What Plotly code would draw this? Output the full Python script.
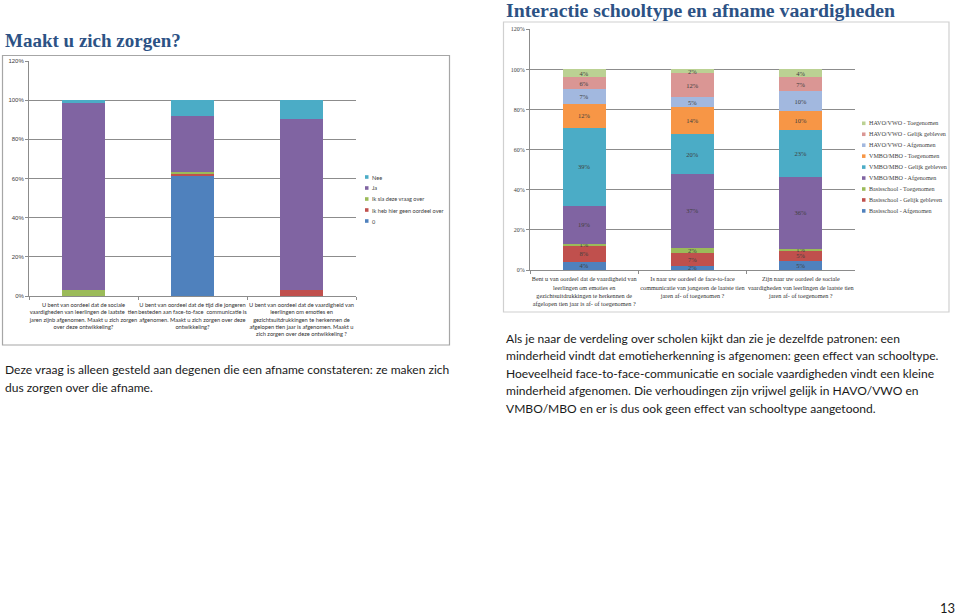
import plotly.graph_objects as go

W, H = 960, 615

# ---------------- Left chart data ----------------
left_categories = [
    "U bent van oordeel dat de sociale<br>vaardigheden van leerlingen de laatste  tien<br>jaren zijnb afgenomen. Maakt u zich zorgen<br>over deze ontwikkeling?",
    "U bent van oordeel dat de tijd die jongeren<br>besteden aan face-to-face  communicatie is<br>afgenomen. Maakt u zich zorgen over deze<br>ontwikkeling?",
    "U bent van oordeel dat de vaardigheid van<br>leerlingen om emoties en<br>gezichtsuitdrukkingen te herkennen de<br>afgelopen tien jaar is afgenomen. Maakt u<br>zich zorgen over deze ontwikkeling ?",
]
left_names = ["0", "Ik heb hier geen oordeel over", "Ik sla deze vraag over", "Ja", "Nee"]
left_zero = [0, 61.5, 0]
left_geen_oordeel = [0, 0.8, 3.2]
left_sla_over = [2.9, 1.2, 0]
left_ja = [95.7, 28.5, 87.2]
left_nee = [1.4, 8.0, 9.6]
left_colors = ["#4F81BD", "#C0504D", "#9BBB59", "#8064A2", "#4BACC6"]

# ---------------- Right chart data ----------------
right_categories = [
    "Bent u van oordeel dat de vaardigheid van<br>leerlingen om emoties en<br>gezichtsuitdrukkingen te herkennen de<br>afgelopen tien jaar is af- of toegenomen ?",
    "Is naar uw oordeel de face-to-face<br>communicatie van jongeren de laatste tien<br>jaren af- of toegenomen ?",
    "Zijn naar uw oordeel de sociale<br>vaardigheden van leerlingen de laatste tien<br>jaren af- of toegenomen ?",
]
right_names = [
    "Basisschool - Afgenomen", "Basisschool - Gelijk gebleven", "Basisschool - Toegenomen",
    "VMBO/MBO - Afgenomen", "VMBO/MBO - Gelijk gebleven", "VMBO/MBO - Toegenomen",
    "HAVO/VWO - Afgenomen", "HAVO/VWO - Gelijk gebleven", "HAVO/VWO - Toegenomen",
]
basis_af = [4, 2, 4.6]
basis_gelijk = [8, 6.6, 5]
basis_toe = [1, 2.4, 1]
vmbo_af = [19, 37, 36]
vmbo_gelijk = [39, 19.6, 23]
vmbo_toe = [12, 13.6, 9.6]
havo_af = [7, 5, 10]
havo_gelijk = [6, 11.8, 7]
havo_toe = [4, 2, 3.8]
right_colors = ["#4F81BD", "#C0504D", "#9BBB59", "#8064A2", "#4BACC6", "#F79646",
                "#A2B8DF", "#DA9694", "#BBD193"]

y_ticks = [0, 20, 40, 60, 80, 100, 120]
y_ticktext = [f"{v}%" for v in y_ticks]


def px(x):
    return x / W


def py(y):
    return 1 - y / H


fig = go.Figure()

left_series = [left_zero, left_geen_oordeel, left_sla_over, left_ja, left_nee]
for name, vals, col in zip(left_names, left_series, left_colors):
    fig.add_trace(go.Bar(x=left_categories, y=vals, name=name, marker_color=col,
                         marker_line_width=0, xaxis="x", yaxis="y", showlegend=False,
                         hoverinfo="skip"))

right_series = [basis_af, basis_gelijk, basis_toe, vmbo_af, vmbo_gelijk, vmbo_toe,
                havo_af, havo_gelijk, havo_toe]
for name, vals, col in zip(right_names, right_series, right_colors):
    fig.add_trace(go.Bar(x=right_categories, y=vals, name=name, marker_color=col,
                         marker_line_width=0, xaxis="x2", yaxis="y2", showlegend=False,
                         texttemplate="%{y:.0f}%", textposition="inside",
                         insidetextanchor="middle", textangle=0,
                         textfont=dict(family="Liberation Serif", size=6.5, color="#404040"),
                         constraintext="none", hoverinfo="skip"))

grid = "#8C8C8C"
axis_common = dict(showgrid=False, zeroline=False, showline=True, linecolor=grid,
                   ticks="outside", ticklen=3, tickcolor=grid, tickson="boundaries",
                   tickangle=0, fixedrange=True, automargin=False, ticklabelstandoff=3)
yaxis_common = dict(range=[0, 120], tickvals=y_ticks, ticktext=y_ticktext, showgrid=True,
                    gridcolor=grid, gridwidth=1, zeroline=False, showline=True,
                    linecolor=grid, ticks="outside", ticklen=3, tickcolor=grid,
                    fixedrange=True, automargin=False)

fig.update_layout(
    width=W, height=H, autosize=False,
    margin=dict(l=0, r=0, t=0, b=0, pad=0, autoexpand=False),
    paper_bgcolor="white", plot_bgcolor="white",
    barmode="stack", bargap=0.605,
    showlegend=False,
    uniformtext=dict(minsize=6.5, mode="show"),
    xaxis=dict(domain=[px(29), px(356)], anchor="y",
               tickfont=dict(family="Lato", size=5.7, color="#303030"),
               **axis_common),
    yaxis=dict(domain=[py(296), py(61)], anchor="x",
               tickfont=dict(family="Liberation Sans", size=6, color="#404040"),
               **yaxis_common),
    xaxis2=dict(domain=[px(530), px(855)], anchor="y2",
                tickfont=dict(family="Liberation Serif", size=6.2, color="#303030"),
                **axis_common),
    yaxis2=dict(domain=[py(270), py(29.3)], anchor="x2",
                tickfont=dict(family="Liberation Serif", size=6, color="#404040"),
                **yaxis_common),
)

shapes = []
annotations = []

# chart frames
shapes.append(dict(type="rect", xref="paper", yref="paper", x0=px(2.5), x1=px(449.5),
                   y0=py(345), y1=py(55.5), line=dict(color="#A6A6A6", width=1.2)))
shapes.append(dict(type="rect", xref="paper", yref="paper", x0=px(503.5), x1=px(949),
                   y0=py(312), y1=py(22), line=dict(color="#D0D0D0", width=1.2)))


# custom legends (reversed order, as in the reference)
def add_legend(names, colors, x0, y0, step, family, size):
    for i, (n, c) in enumerate(reversed(list(zip(names, colors)))):
        yc = y0 + i * step
        shapes.append(dict(type="rect", xref="paper", yref="paper",
                           x0=px(x0), x1=px(x0 + 3.5), y0=py(yc + 1.8), y1=py(yc - 1.8),
                           fillcolor=c, line=dict(width=0)))
        annotations.append(dict(x=px(x0 + 4.5), y=py(yc), xref="paper", yref="paper",
                                text=n, showarrow=False, xanchor="left", yanchor="middle",
                                font=dict(family=family, size=size, color="#404040")))


add_legend(left_names, left_colors, 365, 177, 11, "Lato", 5.6)
add_legend(right_names, right_colors, 862, 123.3, 10.95, "Liberation Serif", 6.1)

title_color = "#2C5285"
annotations.append(dict(x=px(3), y=py(41), xref="paper", yref="paper",
                        text="<b>Maakt u zich zorgen?</b>", showarrow=False,
                        xanchor="left", yanchor="middle",
                        font=dict(family="Liberation Serif", size=19.0, color=title_color)))
annotations.append(dict(x=px(504), y=py(9.5), xref="paper", yref="paper",
                        text="<b>Interactie schooltype en afname vaardigheden</b>",
                        showarrow=False, xanchor="left", yanchor="middle",
                        font=dict(family="Liberation Serif", size=19.8, color=title_color)))

body_font = dict(family="Lato", size=12.05, color="#1A1A1A")
left_text = [
    "Deze vraag is alleen gesteld aan degenen die een afname constateren: ze maken zich",
    "dus zorgen over die afname.",
]
for i, t in enumerate(left_text):
    annotations.append(dict(x=px(3), y=py(369 + 18 * i), xref="paper", yref="paper",
                            text=t, showarrow=False, xanchor="left", yanchor="middle",
                            font=body_font))

right_text = [
    "Als je naar de verdeling over scholen kijkt dan zie je dezelfde patronen: een",
    "minderheid vindt dat emotieherkenning is afgenomen: geen effect van schooltype.",
    "Hoeveelheid face-to-face-communicatie en sociale vaardigheden vindt een kleine",
    "minderheid afgenomen. Die verhoudingen zijn vrijwel gelijk in HAVO/VWO en",
    "VMBO/MBO en er is dus ook geen effect van schooltype aangetoond.",
]
for i, t in enumerate(right_text):
    annotations.append(dict(x=px(504), y=py(338 + 17.6 * i), xref="paper", yref="paper",
                            text=t, showarrow=False, xanchor="left", yanchor="middle",
                            font=body_font))

annotations.append(dict(x=px(957), y=py(608), xref="paper", yref="paper", text="13",
                        showarrow=False, xanchor="right", yanchor="middle",
                        font=dict(family="Lato", size=13, color="#1A1A1A")))

fig.update_layout(shapes=shapes, annotations=annotations)

fig.write_html("out.html")
